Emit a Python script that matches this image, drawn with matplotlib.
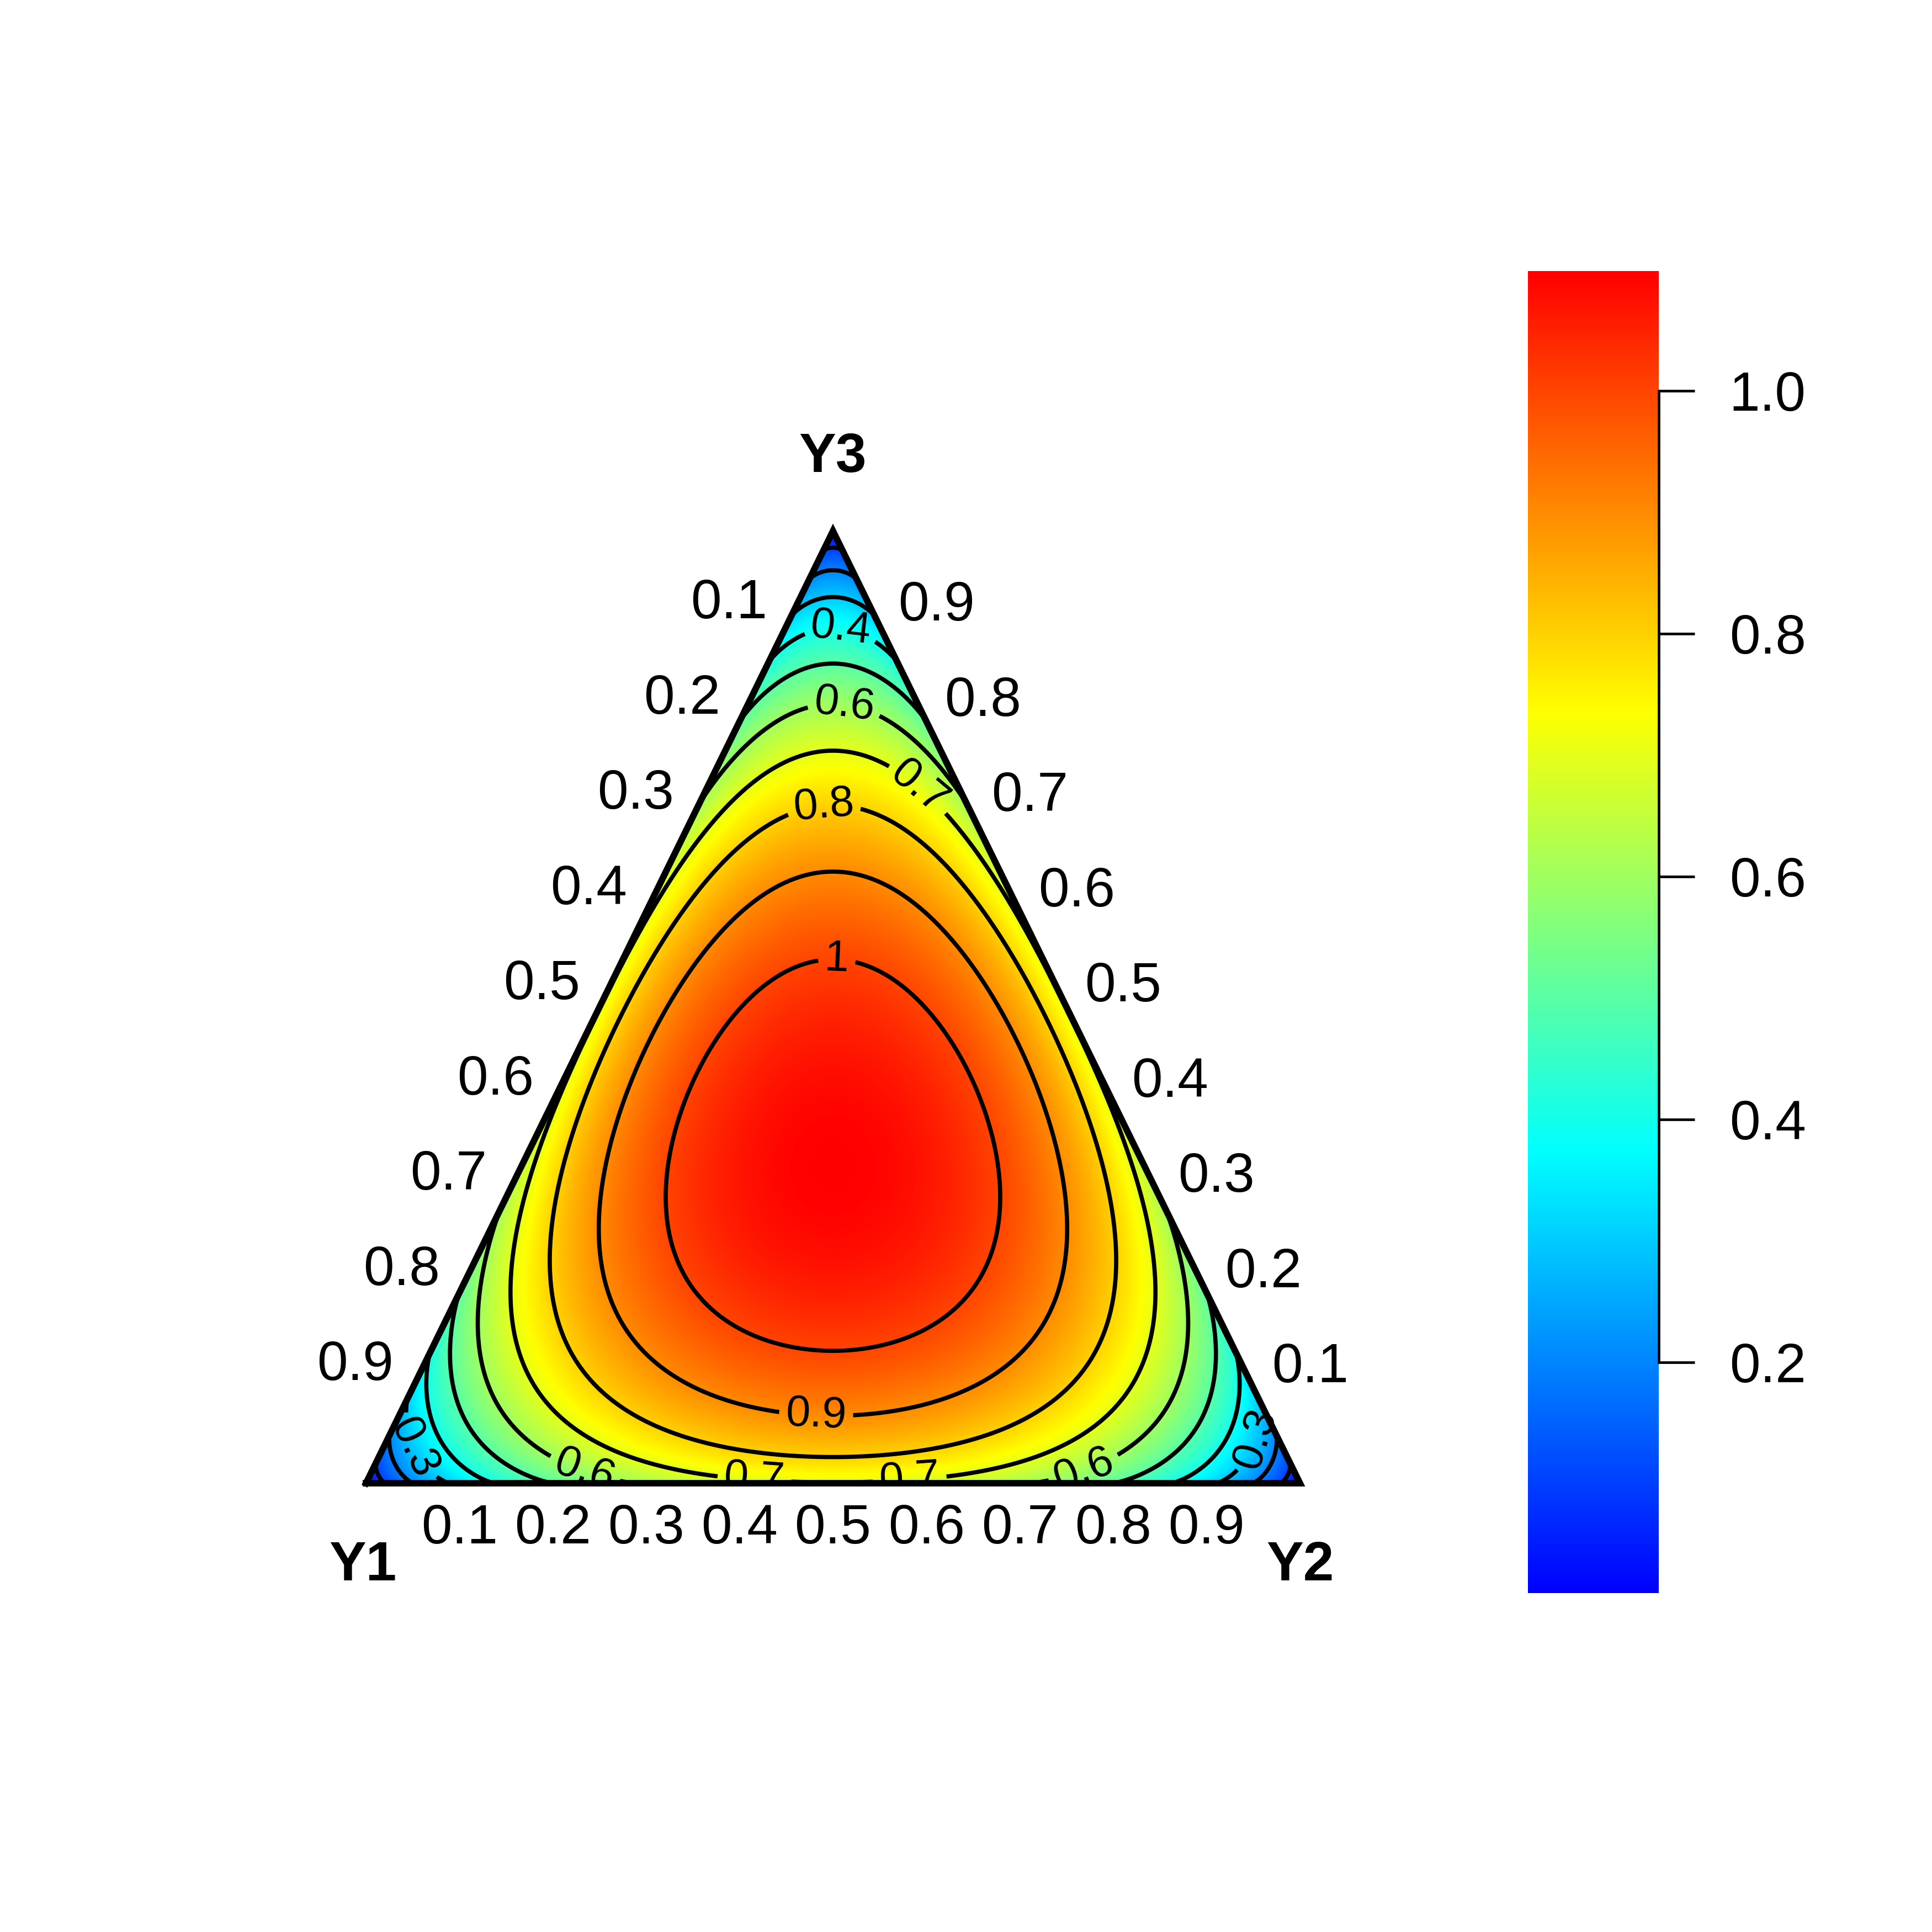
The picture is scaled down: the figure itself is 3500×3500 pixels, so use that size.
import numpy as np
import matplotlib
matplotlib.use("Agg")
import matplotlib.pyplot as plt
from matplotlib.colors import LinearSegmentedColormap
from matplotlib.patches import Polygon

plt.rcParams['font.family'] = ['Liberation Sans', 'DejaVu Sans']

# ---- chart content ----
vertex_names = ['Y1', 'Y2', 'Y3']
levels = [0.1, 0.2, 0.3, 0.4, 0.5, 0.6, 0.7, 0.8, 0.9, 1.0]
level_labels = ['0.1', '0.2', '0.3', '0.4', '0.5', '0.6', '0.7', '0.8', '0.9', '1']
edge_ticks = [0.1, 0.2, 0.3, 0.4, 0.5, 0.6, 0.7, 0.8, 0.9]
edge_tick_labels = ['0.1', '0.2', '0.3', '0.4', '0.5', '0.6', '0.7', '0.8', '0.9']
cbar_ticks = [0.2, 0.4, 0.6, 0.8, 1.0]
cbar_labels = ['0.2', '0.4', '0.6', '0.8', '1.0']
ramp = ['#0000FF', '#00FFFF', '#FFFF00', '#FF0000']
zmin = 0.01   # bottom of the colour key

# where the contour labels sit (ternary plane, x along Y1-Y2, y up to Y3)
label_spots = [(0.507, 0.884), (0.511, 0.807), (0.591, 0.729), (0.491, 0.703),
               (0.504, 0.546), (0.482, 0.073), (0.416, 0.005), (0.582, 0.005),
               (0.235, 0.016), (0.767, 0.019), (0.061, 0.041), (0.943, 0.050)]


def shannon(*parts):
    # entropy of a composition, natural log
    tot = 0
    for p in parts:
        tot = tot - np.where(p > 0, p * np.log(np.where(p > 0, p, 1)), 0)
    return tot


# grid over the triangle
n = 801
gx, gy = np.meshgrid(np.linspace(0, 1, n), np.linspace(0, 1, n))
y3 = gy
y2 = gx - 0.5 * gy
y1 = 1 - gx - 0.5 * gy
inside = (y1 >= -1e-9) & (y2 >= -1e-9)
H = shannon(np.clip(y1, 0, 1), np.clip(y2, 0, 1), np.clip(y3, 0, 1))
zmax = H[inside].max()

cmap = LinearSegmentedColormap.from_list('bcyr', ramp, N=512)

fig = plt.figure(figsize=(35, 35), dpi=100)
ax = fig.add_axes([663 / 3500, 1 - 2687 / 3500, 1692 / 3500, 1725 / 3500])
ax.set_xlim(0, 1)
ax.set_ylim(0, 1)
ax.axis('off')

corners_x = [0, 1, 0.5]
corners_y = [0, 0, 1]
tri = Polygon(list(zip(corners_x, corners_y)), closed=True, facecolor='none',
              edgecolor='none', transform=ax.transData)
ax.add_patch(tri)
im = ax.imshow(H, extent=[0, 1, 0, 1], origin='lower', cmap=cmap, vmin=zmin,
               vmax=zmax, interpolation='bilinear', aspect='auto')
im.set_clip_path(tri)

cs = ax.contour(gx, gy, np.ma.masked_where(~inside, H), levels=levels,
                colors='black', linewidths=5.5)
ax.clabel(cs, levels, manual=label_spots, inline=True, inline_spacing=12,
          fontsize=57, fmt=dict(zip(levels, level_labels)))

# triangle outline
ax.plot(corners_x + [0], corners_y + [0], color='black', lw=8.5,
        solid_joinstyle='miter', clip_on=False)

# edge tick labels
for v, lab in zip(edge_ticks, edge_tick_labels):
    # bottom: Y2 share
    ax.annotate(lab, xy=(v, 0), xytext=(0, -60), textcoords='offset points',
                ha='center', va='center', fontsize=72, annotation_clip=False)
    # left: Y1 share
    ax.annotate(lab, xy=(0.5 * (1 - v), 1 - v), xytext=(-75, 29),
                textcoords='offset points', ha='center', va='center',
                fontsize=72, annotation_clip=False)
    # right: Y3 share
    ax.annotate(lab, xy=(1 - 0.5 * v, v), xytext=(74, 26),
                textcoords='offset points', ha='center', va='center',
                fontsize=72, annotation_clip=False)

# vertex names
ax.annotate(vertex_names[0], xy=(0, 0), xytext=(-4, -108), textcoords='offset points',
            ha='center', va='center', fontsize=72, fontweight='bold', annotation_clip=False)
ax.annotate(vertex_names[1], xy=(1, 0), xytext=(0, -108), textcoords='offset points',
            ha='center', va='center', fontsize=72, fontweight='bold', annotation_clip=False)
ax.annotate(vertex_names[2], xy=(0.5, 1), xytext=(0, 96), textcoords='offset points',
            ha='center', va='center', fontsize=72, fontweight='bold', annotation_clip=False)

# colour key
cax = fig.add_axes([2768 / 3500, 1 - 2886 / 3500, 237 / 3500, 2395 / 3500])
grad = np.linspace(zmin, zmax, 512).reshape(-1, 1)
cax.imshow(grad, extent=[0, 1, zmin, zmax], origin='lower', aspect='auto',
           cmap=cmap, vmin=zmin, vmax=zmax)
cax.set_xlim(0, 1)
cax.set_ylim(zmin, zmax)
for s in ['top', 'bottom', 'left']:
    cax.spines[s].set_visible(False)
cax.spines['right'].set_bounds(cbar_ticks[0], cbar_ticks[-1])
cax.spines['right'].set_linewidth(3.4)
cax.set_xticks([])
cax.yaxis.tick_right()
cax.set_yticks(cbar_ticks, cbar_labels)
cax.tick_params(axis='y', length=47, width=3.4, pad=45, labelsize=72)

fig.savefig('out.png', dpi=100, facecolor='white')
